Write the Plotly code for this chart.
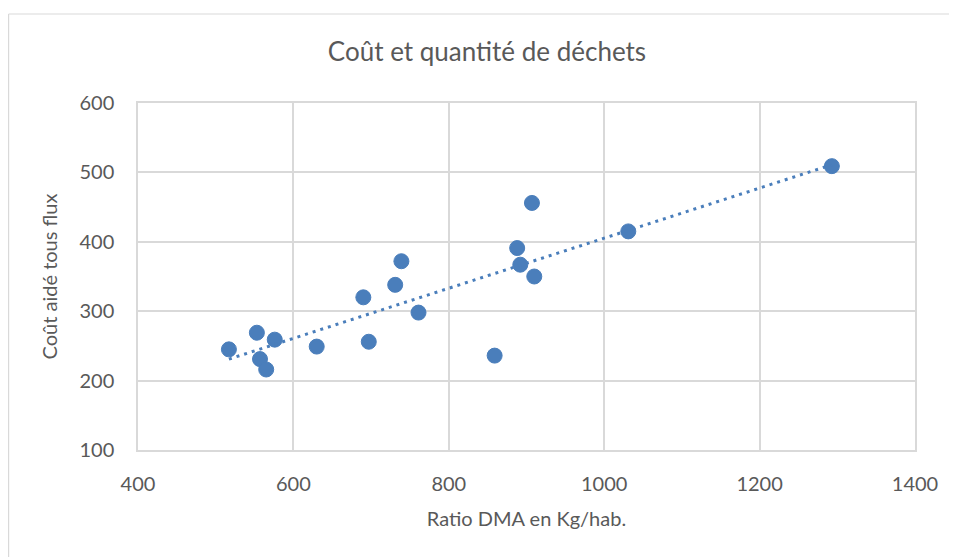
import numpy as np
import plotly.graph_objects as go

# Data
ratio_dma = [517, 553, 557, 565, 576, 630, 690, 697, 731, 739, 761, 859, 888, 892, 907, 910, 1031, 1293]
cout_aide = [245, 269, 231, 216, 259, 249, 320, 256, 338, 372, 298, 236, 391, 367, 456, 350, 415, 509]

x_ticks = [400, 600, 800, 1000, 1200, 1400]
y_ticks = [100, 200, 300, 400, 500, 600]

title_text = "Coût et quantité de déchets"
x_title = "Ratio DMA en Kg/hab."
y_title = "Coût aidé tous flux"

blue = "#4a7ebb"
grid = "#d9d9d9"
txt = "#595959"
font_family = "Lato, 'Open Sans', sans-serif"

# Linear trendline (least squares) over the data range
slope, intercept = np.polyfit(ratio_dma, cout_aide, 1)
tx = np.array([min(ratio_dma), max(ratio_dma)])
ty = slope * tx + intercept

W, H = 949, 549
L, T, PW, PH = 130, 95, 777, 347

fig = go.Figure()
fig.add_trace(go.Scatter(
    x=ratio_dma, y=cout_aide, mode="markers",
    marker=dict(size=15, color=blue, line=dict(width=1, color=blue)),
    showlegend=False, hoverinfo="x+y",
))
fig.add_trace(go.Scatter(
    x=tx, y=ty, mode="lines",
    line=dict(color=blue, width=3, dash="3px,5px"),
    showlegend=False, hoverinfo="skip",
))

x_left = (0.6 - L) / PW
y_top = (T + PH - 6) / PH
fig.update_layout(
    width=W, height=H, autosize=False,
    paper_bgcolor="white", plot_bgcolor="white",
    margin=dict(l=L, r=W - L - PW, t=T, b=H - T - PH),
    font=dict(family=font_family, color=txt, size=20),
    title=dict(text=title_text, x=479 / W, xref="container", xanchor="center",
               y=1 - 44 / H, yref="container", yanchor="middle",
               font=dict(size=26, color=txt, family=font_family)),
    shapes=[
        dict(type="line", xref="paper", yref="paper",
             x0=x_left, x1=x_left, y0=-0.6, y1=y_top,
             line=dict(color=grid, width=1.2), layer="below"),
        dict(type="line", xref="paper", yref="paper",
             x0=x_left, x1=1.3, y0=y_top, y1=y_top,
             line=dict(color=grid, width=1.2), layer="below"),
    ],
)

fig.update_xaxes(
    range=[400, 1400], tickvals=x_ticks, ticktext=[str(v) for v in x_ticks],
    showgrid=True, gridcolor=grid, gridwidth=1.5,
    showline=True, linecolor=grid, linewidth=1.5, mirror=True,
    zeroline=False, ticks="outside", ticklen=15, tickcolor="rgba(0,0,0,0)",
    tickfont=dict(size=20, color=txt),
    title=dict(text=x_title, standoff=18, font=dict(size=20, color=txt)),
    automargin=False, fixedrange=True,
)
fig.update_yaxes(
    range=[100, 600], tickvals=y_ticks, ticktext=[str(v) for v in y_ticks],
    showgrid=True, gridcolor=grid, gridwidth=1.5,
    showline=True, linecolor=grid, linewidth=1.5, mirror=True,
    zeroline=False, ticks="outside", ticklen=18, tickcolor="rgba(0,0,0,0)",
    tickfont=dict(size=20, color=txt),
    title=dict(text=y_title, standoff=16, font=dict(size=20, color=txt)),
    automargin=False, fixedrange=True,
)

fig.write_html("out.html")
